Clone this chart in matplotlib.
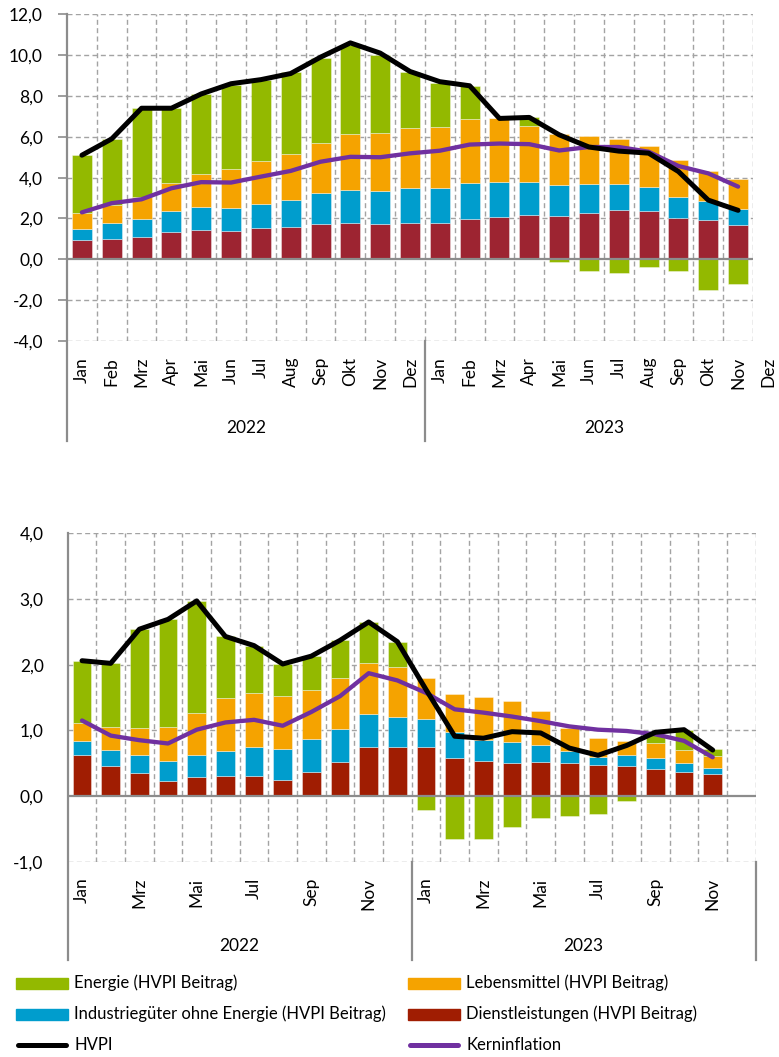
import matplotlib
matplotlib.use("Agg")
import matplotlib.pyplot as plt
import numpy as np
from matplotlib.patches import Rectangle
from matplotlib.lines import Line2D

plt.rcParams['font.family'] = ['Lato', 'DejaVu Sans']

# ---------------- data ----------------
months_full = ["Jan", "Feb", "Mrz", "Apr", "Mai", "Jun", "Jul", "Aug", "Sep", "Okt", "Nov", "Dez"]
years = ["2022", "2023"]

# top chart (Jan 2022 - Nov 2023)
top_dienst = [0.97, 1.01, 1.08, 1.34, 1.44, 1.39, 1.54, 1.59, 1.75, 1.78, 1.73, 1.78,
              1.78, 1.98, 2.06, 2.16, 2.11, 2.27, 2.43, 2.37, 2.01, 1.93, 1.68]
top_indus = [0.53, 0.79, 0.88, 1.03, 1.11, 1.14, 1.17, 1.32, 1.49, 1.62, 1.62, 1.72,
             1.72, 1.76, 1.73, 1.63, 1.52, 1.42, 1.26, 1.18, 1.04, 0.91, 0.80]
top_lebens = [0.79, 0.85, 1.09, 1.35, 1.62, 1.91, 2.11, 2.27, 2.46, 2.76, 2.86, 2.91,
              2.97, 3.11, 3.11, 2.75, 2.53, 2.35, 2.19, 1.99, 1.80, 1.47, 1.43]
top_energie = [2.81, 3.22, 4.37, 3.70, 3.92, 4.12, 3.98, 3.97, 4.18, 4.33, 3.82, 2.77,
               2.17, 1.63, 0.03, 0.41, -0.13, -0.59, -0.65, -0.38, -0.57, -1.49, -1.19]
top_hvpi = [5.1, 5.9, 7.4, 7.4, 8.1, 8.6, 8.8, 9.1, 9.9, 10.6, 10.1, 9.2,
            8.7, 8.5, 6.9, 6.95, 6.1, 5.5, 5.3, 5.2, 4.3, 2.9, 2.4]
top_kern = [2.3, 2.75, 2.94, 3.48, 3.78, 3.76, 4.05, 4.33, 4.78, 5.02, 5.0, 5.19,
            5.32, 5.62, 5.67, 5.64, 5.33, 5.5, 5.5, 5.27, 4.57, 4.21, 3.56]

# bottom chart (Jan 2022 - Nov 2023)
bot_dienst = [0.63, 0.45, 0.35, 0.23, 0.29, 0.30, 0.31, 0.24, 0.37, 0.52, 0.75, 0.75,
              0.75, 0.58, 0.54, 0.51, 0.52, 0.50, 0.47, 0.45, 0.41, 0.36, 0.33]
bot_indus = [0.21, 0.25, 0.27, 0.30, 0.33, 0.39, 0.44, 0.48, 0.50, 0.50, 0.50, 0.46,
             0.43, 0.40, 0.31, 0.31, 0.25, 0.19, 0.13, 0.17, 0.17, 0.14, 0.10]
bot_lebens = [0.27, 0.35, 0.41, 0.52, 0.65, 0.80, 0.82, 0.81, 0.75, 0.77, 0.78, 0.75,
              0.61, 0.58, 0.66, 0.63, 0.52, 0.35, 0.29, 0.22, 0.23, 0.20, 0.18]
bot_energie = [0.95, 0.98, 1.51, 1.64, 1.70, 0.94, 0.72, 0.48, 0.51, 0.58, 0.62, 0.39,
               -0.21, -0.65, -0.65, -0.47, -0.34, -0.31, -0.28, -0.07, 0.14, 0.30, 0.10]
bot_hvpi = [2.06, 2.02, 2.54, 2.69, 2.97, 2.43, 2.29, 2.01, 2.13, 2.37, 2.65, 2.35,
            1.62, 0.91, 0.88, 0.98, 0.96, 0.73, 0.62, 0.77, 0.97, 1.01, 0.70]
bot_kern = [1.15, 0.92, 0.85, 0.80, 1.01, 1.12, 1.16, 1.07, 1.28, 1.52, 1.87, 1.76,
            1.57, 1.32, 1.27, 1.21, 1.14, 1.06, 1.01, 0.99, 0.94, 0.84, 0.59]

top_yticks = [12, 10, 8, 6, 4, 2, 0, -2, -4]
bot_yticks = [4, 3, 2, 1, 0, -1]

legend_labels = ["Energie (HVPI Beitrag)", "Lebensmittel (HVPI Beitrag)",
                 "Industriegüter ohne Energie (HVPI Beitrag)", "Dienstleistungen (HVPI Beitrag)",
                 "HVPI", "Kerninflation"]

# ---------------- styles ----------------
C_GREEN = "#93B900"
C_ORANGE = "#F5A300"
C_BLUE = "#009DCD"
C_RED_TOP = "#9D2431"
C_RED_BOT = "#A01D02"
C_BLACK = "#000000"
C_PURPLE = "#7030A0"
GRID = "#A3A3A3"
AXIS = "#8C8C8C"
PT = 0.72  # points per pixel at dpi 100

W, H = 779, 1057
fig = plt.figure(figsize=(W / 100, H / 100), dpi=100)


def fx(px):
    return px / W


def fy(py):
    return 1 - py / H


def stacked(ax, series, colors, width):
    n = len(series[0])
    x = np.arange(n)
    pos = np.zeros(n)
    neg = np.zeros(n)
    for vals, col in zip(series, colors):
        v = np.array(vals, dtype=float)
        bottom = np.where(v >= 0, pos, neg)
        ax.bar(x, v, width=width, bottom=bottom, color=col, edgecolor=(1, 1, 1, 0.45),
               linewidth=0.6, zorder=3)
        pos = pos + np.where(v >= 0, v, 0)
        neg = neg + np.where(v < 0, v, 0)


def setup(ax, ylim, yticks, ncat_axis, n_labels, label_every, sep_px_below, year_px_below,
          month_px_below, right_sep, tick_px):
    ax.set_xlim(-0.5, ncat_axis - 0.5)
    ax.set_ylim(*ylim)
    for s in ax.spines.values():
        s.set_visible(False)
    ax.set_xticks([])
    ax.set_yticks(yticks)
    ax.set_yticklabels([f"{t:.1f}".replace(".", ",") for t in yticks], fontsize=12.5)
    ax.tick_params(axis='y', length=tick_px * PT, width=1.2, color=AXIS, direction='out',
                   pad=(24 - tick_px) * PT)
    # grid
    for t in yticks:
        if t == 0:
            continue
        ax.axhline(t, color=GRID, lw=1.0, ls=(0, (3.6, 2.4)), zorder=1)
    for k in range(ncat_axis):
        ax.axvline(k + 0.5, color=GRID, lw=1.0, ls=(0, (3.6, 2.4)), zorder=1)
    ax.axhline(0, color=AXIS, lw=1.6, zorder=4)
    # left axis line extending below
    axh_px = ax.get_position().height * H
    ybelow = -sep_px_below / axh_px
    tr = ax.get_xaxis_transform()
    ax.plot([-0.5, -0.5], [1, ybelow], color=AXIS, lw=1.6, transform=tr, clip_on=False, zorder=5)
    ax.plot([11.5, 11.5], [0, ybelow], color=AXIS, lw=1.6, transform=tr, clip_on=False, zorder=5)
    if right_sep:
        ax.plot([23.5, 23.5], [0, ybelow], color=AXIS, lw=1.6, transform=tr, clip_on=False, zorder=5)
    # month labels
    for i in range(n_labels):
        if i % label_every:
            continue
        ax.annotate(months_full[i % 12], xy=(i, 0), xycoords=tr,
                    xytext=(0, -month_px_below * PT), textcoords='offset points',
                    rotation=90, ha='center', va='top', fontsize=12.5, annotation_clip=False)
    for j, yr in enumerate(years):
        ax.annotate(yr, xy=(5.5 + 12 * j, 0), xycoords=tr,
                    xytext=(0, -year_px_below * PT), textcoords='offset points',
                    ha='center', va='center', fontsize=12.5, annotation_clip=False)


# ---------------- top chart ----------------
ax1 = fig.add_axes([fx(67), fy(341), fx(753) - fx(67), (341 - 14.3) / H])
setup(ax1, (-4, 12), top_yticks, 23, 24, 1, 100, 87, 16, False, 9)
stacked(ax1, [top_dienst, top_indus, top_lebens, top_energie],
        [C_RED_TOP, C_BLUE, C_ORANGE, C_GREEN], 0.67)
x1 = np.arange(len(top_hvpi))
ax1.plot(x1, top_kern, color=C_PURPLE, lw=3.1, zorder=6, solid_capstyle='round',
         solid_joinstyle='round')
ax1.plot(x1, top_hvpi, color=C_BLACK, lw=3.6, zorder=7, solid_capstyle='round',
         solid_joinstyle='round')

# ---------------- bottom chart ----------------
ax2 = fig.add_axes([fx(67.7), fy(861.7), fx(755.7) - fx(67.7), (861.7 - 533.3) / H])
setup(ax2, (-1, 4), bot_yticks, 24, 24, 2, 98, 84, 16, True, 0)
stacked(ax2, [bot_dienst, bot_indus, bot_lebens, bot_energie],
        [C_RED_BOT, C_BLUE, C_ORANGE, C_GREEN], 0.66)
x2 = np.arange(len(bot_hvpi))
ax2.plot(x2, bot_kern, color=C_PURPLE, lw=3.1, zorder=6, solid_capstyle='round',
         solid_joinstyle='round')
ax2.plot(x2, bot_hvpi, color=C_BLACK, lw=3.6, zorder=7, solid_capstyle='round',
         solid_joinstyle='round')

# ---------------- legend ----------------
axl = fig.add_axes([0, 0, 1, 1], zorder=-1)
axl.set_xlim(0, W)
axl.set_ylim(H, 0)
axl.axis('off')
leg_colors = [C_GREEN, C_ORANGE, C_BLUE, C_RED_BOT, C_BLACK, C_PURPLE]
leg_kind = ['bar', 'bar', 'bar', 'bar', 'line', 'line']
col_x = [16.5, 408.5]
row_y = [983, 1014, 1045]
for i, (lab, col, kind) in enumerate(zip(legend_labels, leg_colors, leg_kind)):
    cx = col_x[i % 2]
    cy = row_y[i // 2]
    if kind == 'bar':
        axl.add_patch(Rectangle((cx, cy - 5.5), 52, 11, color=col))
    else:
        axl.add_line(Line2D([cx + 2, cx + 50], [cy, cy], color=col, lw=3.6,
                            solid_capstyle='round'))
    axl.text(cx + 58, cy, lab, fontsize=12, va='center', ha='left')

fig.savefig("out.png", dpi=100)
